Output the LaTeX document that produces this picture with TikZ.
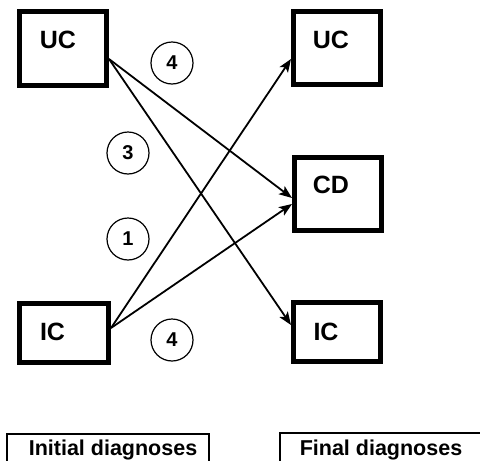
\documentclass[tikz,border=0pt]{standalone}
\usepackage{fontspec}
\setmainfont{Liberation Sans}
\usetikzlibrary{arrows.meta}
\tikzset{
  box/.style={draw, line width=5pt, minimum width=87pt, inner sep=0pt},
  lbl/.style={font=\fontsize{25}{25}\selectfont\bfseries, inner sep=0pt, anchor=base},
  num/.style={draw, circle, line width=1.2pt, minimum size=42pt, inner sep=0pt,
              font=\fontsize{20}{20}\selectfont\bfseries},
  arr/.style={line width=1.8pt, -{Stealth[length=13pt, width=10pt, inset=3pt]}},
  captext/.style={font=\fontsize{21.5}{21.5}\selectfont\bfseries, inner sep=0pt, anchor=base},
  frameline/.style={line width=1.2pt}
}
\begin{document}
\begin{tikzpicture}[x=1pt, y=-1pt]
\useasboundingbox (0,0) rectangle (480,461);
% boxes
\node[box, minimum height=74pt] (lUC) at (63,48.5) {};
\node[box, minimum height=73pt] (rUC) at (337,48) {};
\node[box, minimum height=73pt] (CD)  at (338,194) {};
\node[box, minimum width=89pt, minimum height=59pt] (lIC) at (64,333) {};
\node[box, minimum height=59pt] (rIC) at (337,332) {};
% box labels
\node[lbl] (tlUC) at (58,48) {UC};
\node[lbl] (trUC) at (331,48) {UC};
\node[lbl] (tCD)  at (331,193) {CD};
\node[lbl] (tlIC) at (52.5,340) {IC};
\node[lbl] (trIC) at (326,340) {IC};
% numbers
\node[num] (n1) at (172,63) {4};
\node[num] (n2) at (128,153) {3};
\node[num] (n3) at (128,239) {1};
\node[num] (n4) at (172,340) {4};
% connector end points
\coordinate (sUC) at ([yshift=-10.5pt]lUC.east);
\coordinate (sIC) at ([yshift=5pt]lIC.east);
\draw[arr] (sUC) -- ([yshift=-4pt]CD.west);
\draw[arr] (sUC) -- ([yshift=7pt]rIC.west);
\draw[arr] (sIC) -- ([yshift=-11pt]rUC.west);
\draw[arr] (sIC) -- ([yshift=-10pt]CD.west);
% bottom captions
\draw[frameline] (7,463) -- (7,434) -- (209,434) -- (209,463);
\draw[frameline] (280,463) -- (280,433) -- (482,433);
\node[captext] (cI) at (113,455) {Initial diagnoses};
\node[captext] (cF) at (381,455) {Final diagnoses};
\end{tikzpicture}
\end{document}
